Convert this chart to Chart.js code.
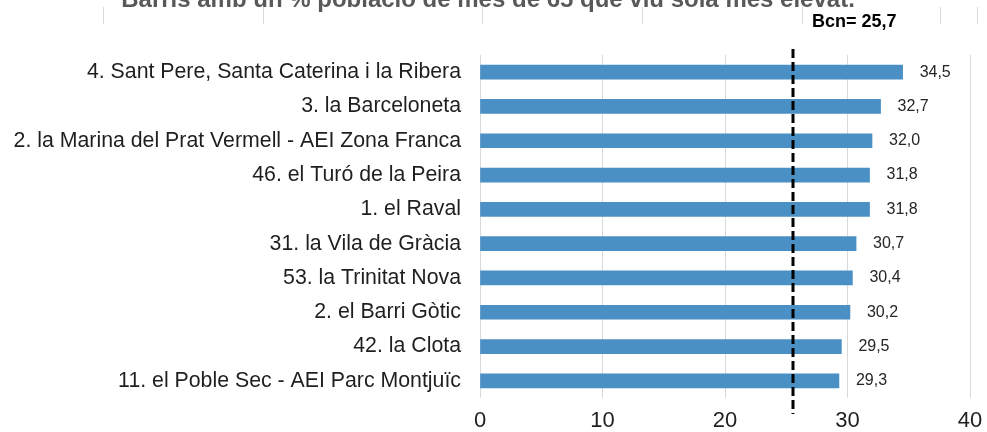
<!DOCTYPE html>
<html>
<head>
<meta charset="utf-8">
<script src="https://cdn.jsdelivr.net/npm/chart.js@4"></script>
<style>
html,body{margin:0;padding:0;background:#fff;}
#wrap{width:987px;height:432px;position:relative;}
</style>
</head>
<body>
<div id="wrap"><canvas id="c" width="987" height="432"></canvas></div>
<script>
const categories = [
  "4. Sant Pere, Santa Caterina i la Ribera",
  "3. la Barceloneta",
  "2. la Marina del Prat Vermell - AEI Zona Franca",
  "46. el Turó de la Peira",
  "1. el Raval",
  "31. la Vila de Gràcia",
  "53. la Trinitat Nova",
  "2. el Barri Gòtic",
  "42. la Clota",
  "11. el Poble Sec - AEI Parc Montjuïc"
];
const values = [34.5, 32.7, 32.0, 31.8, 31.8, 30.7, 30.4, 30.2, 29.5, 29.3];
const bcnValue = 25.7;
const bcnLabel = "Bcn= 25,7";
const titleText = "Barris amb un % població de més de 65 que viu sola més elevat.";
const xTicks = [0, 10, 20, 30, 40];

const FONT = "'Liberation Sans', Arial, sans-serif";
const fmt = v => v.toFixed(1).replace('.', ',');

const overlay = {
  id: 'overlay',
  beforeDraw(chart) {
    const ctx = chart.ctx;
    ctx.save();
    // faint remnants of the chart above (cropped)
    ctx.strokeStyle = '#d9d9d9';
    ctx.lineWidth = 1;
    [103, 263, 482, 642, 802, 940, 977].forEach(x => {
      ctx.beginPath(); ctx.moveTo(x + 0.5, 7); ctx.lineTo(x + 0.5, 24); ctx.stroke();
    });
    // cropped title
    ctx.fillStyle = '#595959';
    ctx.font = "bold 24px " + FONT;
    ctx.textAlign = 'center';
    ctx.textBaseline = 'alphabetic';
    ctx.fillText(titleText, 488, 7);
    ctx.restore();
  },
  afterDatasetsDraw(chart) {
    const ctx = chart.ctx;
    const xs = chart.scales.x;
    const meta = chart.getDatasetMeta(0);
    ctx.save();
    // value labels
    ctx.fillStyle = '#262626';
    ctx.font = "16px " + FONT;
    ctx.textAlign = 'left';
    ctx.textBaseline = 'middle';
    meta.data.forEach((bar, i) => {
      ctx.fillText(fmt(values[i]), bar.x + 17, bar.y);
    });
    // Barcelona reference line
    const x = Math.round(xs.getPixelForValue(bcnValue)) - 2;
    ctx.strokeStyle = '#000';
    ctx.lineWidth = 3;
    ctx.setLineDash([9, 4]);
    ctx.beginPath();
    ctx.moveTo(x, 49);
    ctx.lineTo(x, 414);
    ctx.stroke();
    ctx.setLineDash([]);
    ctx.fillStyle = '#000';
    ctx.font = "bold 18px " + FONT;
    ctx.textAlign = 'left';
    ctx.textBaseline = 'middle';
    ctx.fillText(bcnLabel, 812, 22);
    ctx.restore();
  }
};

new Chart(document.getElementById('c'), {
  type: 'bar',
  data: {
    labels: categories,
    datasets: [{
      data: values,
      backgroundColor: '#4a90c4',
      borderWidth: 0,
      barThickness: 14
    }]
  },
  options: {
    indexAxis: 'y',
    responsive: false,
    animation: false,
    layout: { padding: { top: 55, right: 17, bottom: 0, left: 0 } },
    plugins: { legend: { display: false }, tooltip: { enabled: false }, title: { display: false } },
    scales: {
      x: {
        min: 0, max: 40,
        afterBuildTicks(s) { s.ticks = xTicks.map(v => ({ value: v })); },
        afterFit(s) { s.height = 34; s.paddingLeft = 0; s.paddingRight = 0; },
        grid: { color: '#d9d9d9', lineWidth: 1, drawTicks: false },
        border: { display: false },
        ticks: { color: '#1f1f1f', font: { family: FONT, size: 22 }, padding: 10, maxRotation: 0 }
      },
      y: {
        afterFit(s) { s.width = 480; },
        grid: { display: false, drawTicks: false },
        border: { display: false },
        ticks: { color: '#1f1f1f', font: { family: FONT, size: 21.3 }, padding: 19 }
      }
    }
  },
  plugins: [overlay]
});
</script>
</body>
</html>
